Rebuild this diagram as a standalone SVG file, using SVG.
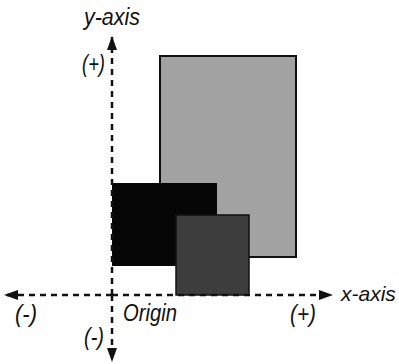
<svg xmlns="http://www.w3.org/2000/svg" width="399" height="364" viewBox="0 0 399 364">
<style>
text{font-family:"Liberation Sans",Arial,sans-serif;font-style:italic;font-size:23px;fill:#111}
.ax{stroke:#111;stroke-width:2.5;stroke-dasharray:6 5;fill:none}
</style>
<defs>
<marker id="ah" viewBox="0 0 14 10" refX="13" refY="5" markerWidth="5.6" markerHeight="4" markerUnits="strokeWidth" orient="auto">
<path d="M0,0 L14,5 L0,10 Z" fill="#111"/>
</marker>
</defs>
<rect width="399" height="364" fill="#fff"/>
<g id="light-rect"><rect x="160" y="56" width="136" height="201" fill="#a2a2a2" stroke="#111" stroke-width="2"/></g>
<g id="black-rect"><rect x="112" y="183" width="105" height="83" fill="#060606"/></g>
<g id="dark-rect"><rect x="176" y="215" width="73" height="80" fill="#3d3d3d" stroke="#111" stroke-width="1.5"/></g>
<g id="connectors">
<line class="ax" x1="112" y1="295" x2="112" y2="37" marker-end="url(#ah)"/>
<line class="ax" x1="112" y1="295" x2="112" y2="361" marker-end="url(#ah)"/>
<line class="ax" x1="112" y1="295" x2="332" y2="295" marker-end="url(#ah)"/>
<line class="ax" x1="112" y1="295" x2="5" y2="295" marker-end="url(#ah)"/>
</g>
<g id="labels">
<text x="84" y="25" textLength="56" lengthAdjust="spacingAndGlyphs">y-axis</text>
<text x="82" y="72" textLength="23" lengthAdjust="spacingAndGlyphs">(+)</text>
<text x="341" y="301" style="font-size:21px">x-axis</text>
<text x="290" y="322" textLength="26" lengthAdjust="spacingAndGlyphs">(+)</text>
<text x="15" y="322" textLength="22" lengthAdjust="spacingAndGlyphs">(-)</text>
<text x="123" y="321" textLength="54" lengthAdjust="spacingAndGlyphs">Origin</text>
<text x="84" y="345" textLength="20" lengthAdjust="spacingAndGlyphs">(-)</text>
</g>
</svg>
